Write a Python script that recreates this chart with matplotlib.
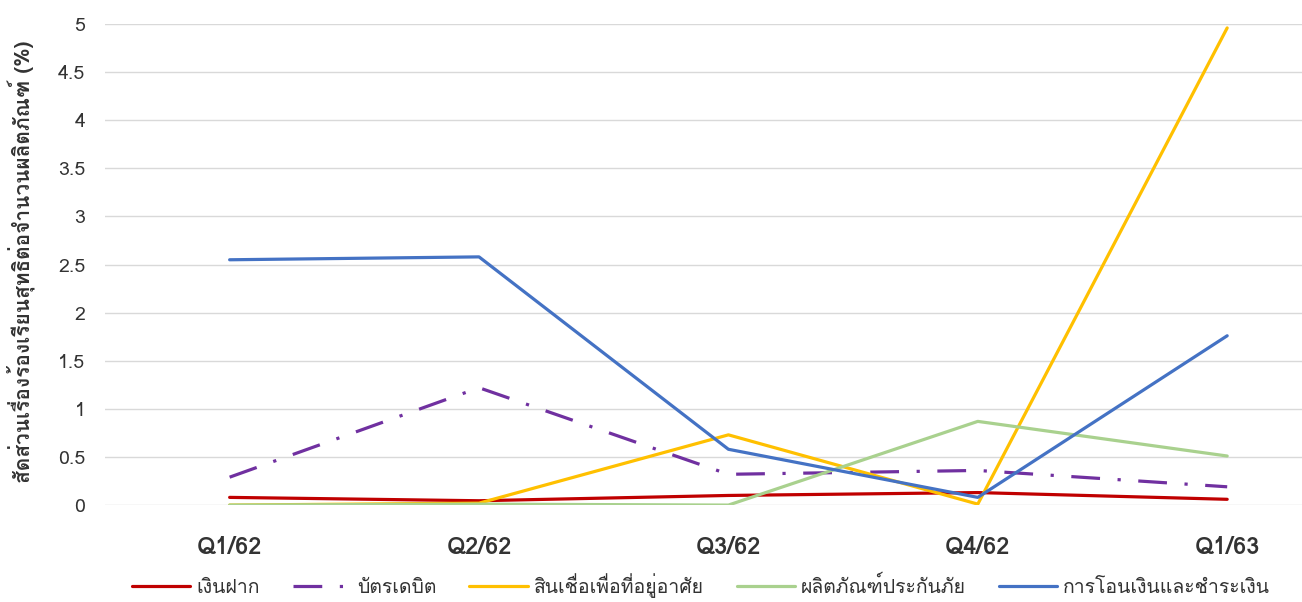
import matplotlib
matplotlib.use("Agg")
import matplotlib.pyplot as plt
from matplotlib import font_manager
from matplotlib.ft2font import FT2Font

quarters = ["Q1/62", "Q2/62", "Q3/62", "Q4/62", "Q1/63"]
deposit = [0.08, 0.045, 0.10, 0.13, 0.06]
debit_card = [0.29, 1.22, 0.32, 0.36, 0.19]
housing_loan = [0.0, 0.02, 0.73, 0.01, 4.96]
insurance = [0.0, 0.01, 0.0, 0.87, 0.51]
transfer = [2.55, 2.58, 0.58, 0.08, 1.76]

names = ["เงินฝาก", "บัตรเดบิต", "สินเชื่อเพื่อที่อยู่อาศัย", "ผลิตภัณฑ์ประกันภัย", "การโอนเงินและชำระเงิน"]
ylabel = "สัดส่วนเรื่องร้องเรียนสุทธิต่อจำนวนผลิตภัณฑ์ (%)"

# find a font that has thai glyphs
thai_font = None
for f in font_manager.fontManager.ttflist:
    try:
        if 0x0E01 in FT2Font(f.fname).get_charmap():
            thai_font = f.name
            break
    except Exception:
        pass
families = ([thai_font] if thai_font else []) + ["DejaVu Sans"]
plt.rcParams["font.family"] = families

fig = plt.figure(figsize=(13.02, 6.02), dpi=100)
ax = fig.add_axes([0.0806, 0.161, 0.9194, 0.799])

x = range(len(quarters))
ax.plot(x, deposit, color="#C00000", lw=2.3, label=names[0], solid_capstyle="round")
ax.plot(x, debit_card, color="#7030A0", lw=2.3, ls=(0, (9, 5.5, 1, 5.5)), label=names[1])
ax.plot(x, housing_loan, color="#FFC000", lw=2.3, label=names[2], solid_capstyle="round")
ax.plot(x, insurance, color="#A9D18E", lw=2.3, label=names[3], solid_capstyle="round")
ax.plot(x, transfer, color="#4472C4", lw=2.3, label=names[4], solid_capstyle="round")

ax.set_xlim(-0.5, 4.3)
ax.set_ylim(0, 5)
ax.set_yticks([0, 0.5, 1, 1.5, 2, 2.5, 3, 3.5, 4, 4.5, 5])
ax.set_yticklabels(["0", "0.5", "1", "1.5", "2", "2.5", "3", "3.5", "4", "4.5", "5"])
ax.set_xticks(list(x))
ax.set_xticklabels(quarters, fontsize=17, fontweight="bold", color="#333333")
ax.tick_params(axis="y", labelsize=14, labelcolor="#333333", length=0, pad=14)
ax.tick_params(axis="x", length=0, pad=22)
ax.grid(axis="y", color="#D9D9D9", lw=1)
ax.set_axisbelow(True)
for s in ax.spines.values():
    s.set_visible(False)

fig.text(0.016, 0.565, ylabel, rotation=90, ha="center", va="center",
         fontsize=15, fontweight="bold", color="#333333")

fig.legend(loc="lower left", bbox_to_anchor=(0.088, -0.022), ncol=5, frameon=False,
           fontsize=14, handlelength=3.0, columnspacing=1.7, handletextpad=0.3,
           labelcolor="#333333")

fig.savefig("out.png", dpi=100)
